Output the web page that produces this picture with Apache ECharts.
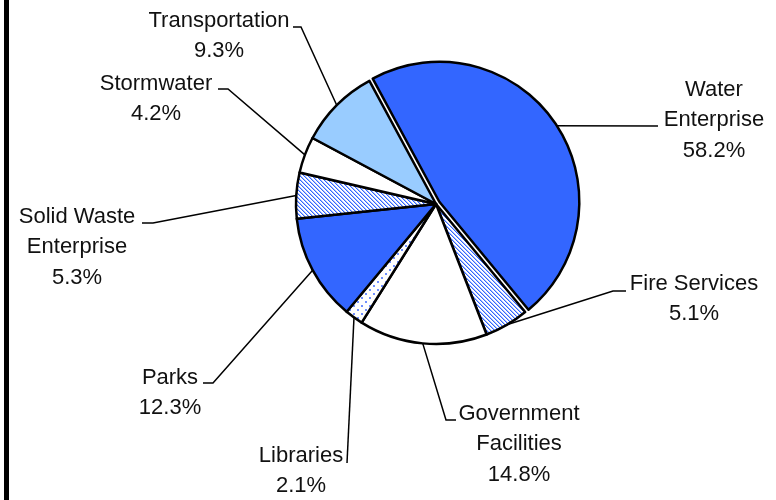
<!DOCTYPE html>
<html>
<head>
<meta charset="utf-8">
<script src="https://cdn.jsdelivr.net/npm/echarts@6/dist/echarts.min.js"></script>
<style>
  html, body { margin: 0; padding: 0; background: #fff; }
  #chart { width: 776px; height: 500px; }
</style>
</head>
<body>
<div id="chart"></div>
<script>
// ---- data ----
const categories = ['Water Enterprise', 'Fire Services', 'Government Facilities', 'Libraries', 'Parks', 'Solid Waste Enterprise', 'Stormwater', 'Transportation'];
const labelNames = ['Water\nEnterprise', 'Fire Services', 'Government\nFacilities', 'Libraries', 'Parks', 'Solid Waste\nEnterprise', 'Stormwater', 'Transportation'];
const shares = [46.9, 5.1, 14.8, 2.1, 12.3, 5.3, 4.2, 9.3];          // slice sizes as drawn
const labelPct = ['58.2%', '5.1%', '14.8%', '2.1%', '12.3%', '5.3%', '4.2%', '9.3%']; // printed labels

// ---- patterns ----
function hatchCanvas() {
  const c = document.createElement('canvas');
  c.width = 4; c.height = 4;
  const g = c.getContext('2d');
  g.fillStyle = '#ffffff'; g.fillRect(0, 0, 4, 4);
  for (let i = 0; i < 4; i++) {
    g.fillStyle = '#3366FF'; g.fillRect(i, i, 1, 1);
    g.fillStyle = '#a9bfff'; g.fillRect((i + 1) % 4, i, 1, 1);
  }
  return c;
}
function dotCanvas() {
  const c = document.createElement('canvas');
  c.width = 8; c.height = 8;
  const g = c.getContext('2d');
  g.fillStyle = '#ffffff'; g.fillRect(0, 0, 8, 8);
  g.fillStyle = '#6f8fff';
  g.fillRect(1, 1, 2, 2);
  g.fillRect(5, 5, 2, 2);
  return c;
}
const hatch = { image: hatchCanvas(), repeat: 'repeat' };
const dots = { image: dotCanvas(), repeat: 'repeat' };
const fills = ['#3366FF', hatch, '#ffffff', dots, '#3366FF', hatch, '#ffffff', '#99CCFF'];

// ---- label placement (block centre) and leader line ends ----
const labelPos = [
  { x: 714, y: 120, line: [[658, 126]] },
  { x: 694, y: 299, line: [[613, 291], [626, 291]] },
  { x: 519, y: 444, line: [[446, 420], [456, 420]] },
  { x: 301, y: 471, line: [[347, 463]] },
  { x: 170, y: 393, line: [[213, 383], [203, 383]] },
  { x: 77, y: 247, line: [[153, 223], [142, 223]] },
  { x: 156, y: 99, line: [[228, 89], [218, 89]] },
  { x: 219, y: 36, line: [[301, 27], [293, 27]] }
];

const font = "'Liberation Sans', Arial, sans-serif";
const CENTER = [436, 204];
const RADIUS = 140;
const START = 118.4;
const EXPLODE = 4;

// offset of the exploded first slice, along its mid angle
const total = shares.reduce((a, b) => a + b, 0);
const midDeg = START - shares[0] / total * 180;
const midRad = midDeg * Math.PI / 180;
const explodedCenter = [CENTER[0] + EXPLODE * Math.cos(midRad), CENTER[1] - EXPLODE * Math.sin(midRad)];

const hidden = { color: 'rgba(0,0,0,0)', borderWidth: 0 };

const chart = echarts.init(document.getElementById('chart'), null, { renderer: 'canvas' });
chart.setOption({
  backgroundColor: '#ffffff',
  animation: false,
  graphic: [{
    type: 'rect',
    shape: { x: 4, y: 0, width: 5, height: 500 },
    style: { fill: '#000' }
  }],
  series: [{
    type: 'pie',
    center: CENTER,
    radius: RADIUS,
    startAngle: START,
    clockwise: true,
    selectedMode: false,
    avoidLabelOverlap: false,
    itemStyle: { borderColor: '#000', borderWidth: 2.5 },
    label: {
      show: true,
      position: 'outside',
      fontFamily: font,
      fontSize: 22,
      lineHeight: 30.5,
      color: '#111',
      align: 'center',
      formatter: p => labelNames[p.dataIndex] + '\n' + labelPct[p.dataIndex]
    },
    labelLine: { show: true, lineStyle: { color: '#000', width: 1.5 } },
    emphasis: { disabled: true },
    labelLayout: function (params) {
      const lp = labelPos[params.dataIndex];
      const p0 = params.labelLinePoints ? params.labelLinePoints[0] : [0, 0];
      return {
        x: lp.x, y: lp.y,
        align: 'center', verticalAlign: 'middle',
        labelLinePoints: [p0].concat(lp.line)
      };
    },
    data: categories.map((c, i) => ({
      name: c,
      value: shares[i],
      itemStyle: i === 0 ? hidden : { color: fills[i] }
    }))
  }, {
    type: 'pie',
    center: explodedCenter,
    radius: RADIUS,
    startAngle: START,
    clockwise: true,
    selectedMode: false,
    silent: true,
    itemStyle: { borderColor: '#000', borderWidth: 2.5 },
    label: { show: false },
    labelLine: { show: false },
    emphasis: { disabled: true },
    data: categories.map((c, i) => ({
      name: c,
      value: shares[i],
      itemStyle: i === 0 ? { color: fills[0] } : hidden
    }))
  }]
});
</script>
</body>
</html>
